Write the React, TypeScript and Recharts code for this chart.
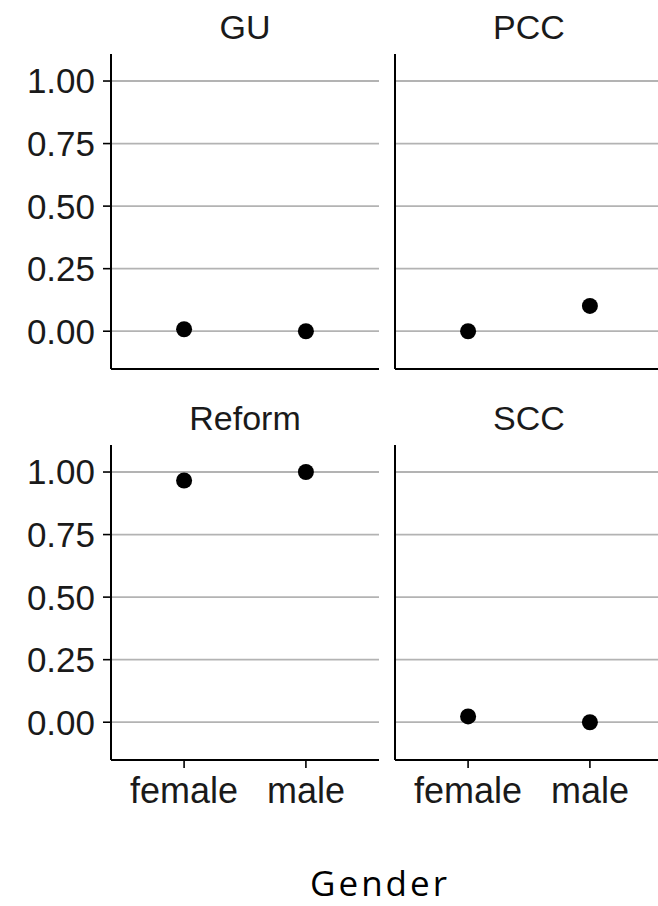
import React from 'react';
import { ScatterChart, Scatter, XAxis, YAxis, CartesianGrid } from 'recharts';

const categories = ['female', 'male'];
const panels = ['GU', 'PCC', 'Reform', 'SCC'];
const guValues = [0.008, 0.0];
const pccValues = [0.0, 0.101];
const reformValues = [0.966, 1.0];
const sccValues = [0.023, 0.0];
const yTicks = [0, 0.25, 0.5, 0.75, 1];
const xTitle = 'Gender';

const seriesByPanel = [guValues, pccValues, reformValues, sccValues];

const TICK_FONT = '"Liberation Sans", sans-serif';
const PLOT_W = 268;
const PLOT_H = 315;

type PanelProps = {
  title: string;
  values: number[];
  left: number;
  top: number;
  showY: boolean;
  showX: boolean;
};

const EmptyTick = () => <g />;

const Panel = ({ title, values, left, top, showY, showX }: PanelProps) => {
  const data = categories.map((c, i) => ({ x: i + 1, y: values[i], cat: c }));
  const yW = showY ? 111 : 1;
  const mLeft = showY ? 0 : 14;
  const xH = showX ? 60 : 1;
  const width = mLeft + yW + PLOT_W + 10;
  const height = 54 + PLOT_H + xH + 2;
  const plotLeft = left + mLeft + yW;
  return (
    <>
      <div
        style={{
          position: 'absolute',
          left: plotLeft,
          top: top + 5,
          width: PLOT_W,
          textAlign: 'center',
          fontFamily: TICK_FONT,
          fontSize: 34,
          lineHeight: '44px',
          color: '#1a1a1a',
        }}
      >
        {title}
      </div>
      <div style={{ position: 'absolute', left, top }}>
        <ScatterChart
          width={width}
          height={height}
          margin={{ top: 54, left: mLeft, right: 10, bottom: 2 }}
        >
          <CartesianGrid
            vertical={false}
            horizontal={true}
            stroke="#b3b3b3"
            strokeWidth={1.8}
            horizontalValues={yTicks}
          />
          <XAxis
            type="number"
            dataKey="x"
            domain={[0.4, 2.6]}
            ticks={[1, 2]}
            allowDataOverflow
            height={xH}
            tick={showX ? { fill: '#1a1a1a', fontSize: 36, fontFamily: TICK_FONT } : EmptyTick}
            tickLine={showX ? { stroke: '#000', strokeWidth: 1.6 } : false}
            tickSize={8}
            tickMargin={9}
            axisLine={{ stroke: '#000', strokeWidth: 2 }}
            tickFormatter={(v: number) => categories[v - 1] ?? ''}
          />
          <YAxis
            type="number"
            dataKey="y"
            domain={[-0.151, 1.108]}
            ticks={yTicks}
            allowDataOverflow
            width={yW}
            tick={showY ? { fill: '#1a1a1a', fontSize: 35, fontFamily: TICK_FONT } : EmptyTick}
            tickLine={showY ? { stroke: '#000', strokeWidth: 1.6 } : false}
            tickSize={8}
            tickMargin={8}
            axisLine={{ stroke: '#000', strokeWidth: 2 }}
            tickFormatter={(v: number) => v.toFixed(2)}
          />
          <Scatter
            data={data}
            fill="#000"
            isAnimationActive={false}
            shape={(p: any) => <circle cx={p.cx} cy={p.cy} r={8} fill="#000" />}
          />
        </ScatterChart>
      </div>
    </>
  );
};

export default function App() {
  return (
    <div
      style={{
        position: 'absolute',
        left: 0,
        top: 0,
        width: 658,
        height: 906,
        overflow: 'hidden',
        background: '#fff',
      }}
    >
      <Panel title={panels[0]} values={seriesByPanel[0]} left={0} top={0} showY showX={false} />
      <Panel title={panels[1]} values={seriesByPanel[1]} left={380} top={0} showY={false} showX={false} />
      <Panel title={panels[2]} values={seriesByPanel[2]} left={0} top={391} showY showX />
      <Panel title={panels[3]} values={seriesByPanel[3]} left={380} top={391} showY={false} showX />
      <div
        style={{
          position: 'absolute',
          left: 230,
          width: 300,
          top: 863,
          textAlign: 'center',
          fontFamily: '"Open Sans", sans-serif',
          fontSize: 35,
          letterSpacing: 3,
          lineHeight: '40px',
          color: '#000',
        }}
      >
        {xTitle}
      </div>
    </div>
  );
}
